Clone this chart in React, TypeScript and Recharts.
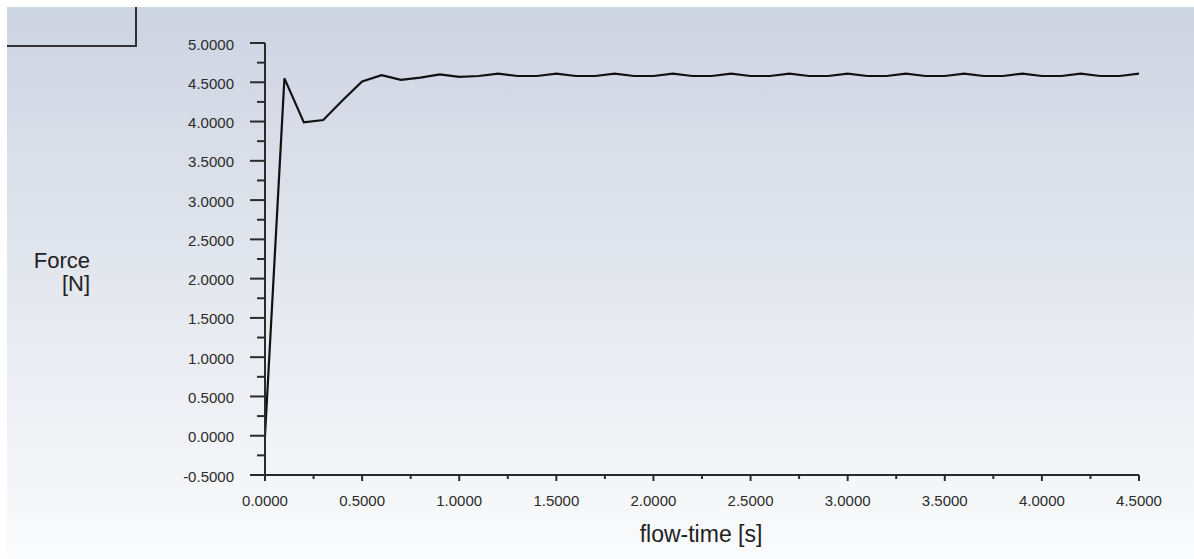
import React from "react";
import { LineChart, Line, XAxis, YAxis } from "recharts";

const times = [
  0.0, 0.1, 0.2, 0.3, 0.4, 0.5, 0.6, 0.7, 0.8, 0.9,
  1.0, 1.1, 1.2, 1.3, 1.4, 1.5, 1.6, 1.7, 1.8, 1.9,
  2.0, 2.1, 2.2, 2.3, 2.4, 2.5, 2.6, 2.7, 2.8, 2.9,
  3.0, 3.1, 3.2, 3.3, 3.4, 3.5, 3.6, 3.7, 3.8, 3.9,
  4.0, 4.1, 4.2, 4.3, 4.4, 4.5,
];
const force = [
  0.0, 4.55, 3.99, 4.02, 4.27, 4.51, 4.59, 4.53, 4.56, 4.6,
  4.57, 4.58, 4.61, 4.58, 4.58, 4.61, 4.58, 4.58, 4.61, 4.58,
  4.58, 4.61, 4.58, 4.58, 4.61, 4.58, 4.58, 4.61, 4.58, 4.58,
  4.61, 4.58, 4.58, 4.61, 4.58, 4.58, 4.61, 4.58, 4.58, 4.61,
  4.58, 4.58, 4.61, 4.58, 4.58, 4.61,
];
const xTicks = [0, 0.25, 0.5, 0.75, 1, 1.25, 1.5, 1.75, 2, 2.25, 2.5, 2.75, 3, 3.25, 3.5, 3.75, 4, 4.25, 4.5];
const yTicks = [-0.5, -0.25, 0, 0.25, 0.5, 0.75, 1, 1.25, 1.5, 1.75, 2, 2.25, 2.5, 2.75, 3, 3.25, 3.5, 3.75, 4, 4.25, 4.5, 4.75, 5];

const data = times.map((t, i) => ({ t, f: force[i] }));

const FONT = "'Liberation Sans', Arial, sans-serif";
const INK = "#2b2b2b";

const isMajor = (v: number) => Math.abs(v * 2 - Math.round(v * 2)) < 1e-6;

const YTick = (props: any) => {
  const { x, y, payload } = props;
  const v = payload.value as number;
  const major = isMajor(v);
  return (
    <g>
      <line x1={x - (major ? 15 : 8)} x2={x} y1={y} y2={y} stroke={INK} strokeWidth={2} />
      {major && (
        <text x={x - 31} y={y + 1} textAnchor="end" dominantBaseline="central" fontFamily={FONT} fontSize={15} fill={INK}>
          {v.toFixed(4)}
        </text>
      )}
    </g>
  );
};

const XTick = (props: any) => {
  const { x, y, payload } = props;
  const v = payload.value as number;
  const major = isMajor(v);
  return (
    <g>
      <line x1={x} x2={x} y1={y} y2={y + (major ? 6 : 4)} stroke={INK} strokeWidth={2} />
      {major && (
        <text x={x} y={y + 25} textAnchor="middle" dominantBaseline="central" fontFamily={FONT} fontSize={15} fill={INK}>
          {v.toFixed(4)}
        </text>
      )}
    </g>
  );
};

export default function App() {
  return (
    <div style={{ position: "absolute", left: 0, top: 0, width: 1194, height: 559, background: "#ffffff" }}>
      <div
        style={{
          position: "absolute",
          left: 7,
          top: 7,
          width: 1187,
          height: 552,
          background: "linear-gradient(to bottom, #cdd4e2 0%, #e4e7ee 50%, #fafbfc 100%)",
        }}
      />
      <svg style={{ position: "absolute", left: 0, top: 0 }} width={1194} height={559}>
        <polyline points="7,46 136,46 136,7" fill="none" stroke="#333333" strokeWidth={2} />
        <text x={90} y={268} textAnchor="end" fontFamily={FONT} fontSize={22} fill="#222">
          Force
        </text>
        <text x={90} y={291} textAnchor="end" fontFamily={FONT} fontSize={22} fill="#222">
          [N]
        </text>
        <text x={701} y={542} textAnchor="middle" fontFamily={FONT} fontSize={23} fill="#222">
          flow-time [s]
        </text>
      </svg>
      <div style={{ position: "absolute", left: 0, top: 0 }}>
        <LineChart width={1194} height={559} data={data} margin={{ top: 43, right: 55, left: 0, bottom: 24 }}>
          <XAxis
            dataKey="t"
            type="number"
            domain={[0, 4.5]}
            ticks={xTicks}
            interval={0}
            tickSize={0}
            tickMargin={0}
            tickLine={false}
            tick={<XTick />}
            axisLine={{ stroke: INK, strokeWidth: 2 }}
            height={60}
            allowDataOverflow
          />
          <YAxis
            type="number"
            domain={[-0.5, 5]}
            ticks={yTicks}
            interval={0}
            tickSize={0}
            tickMargin={0}
            tickLine={false}
            tick={<YTick />}
            axisLine={{ stroke: INK, strokeWidth: 2 }}
            width={265}
            allowDataOverflow
          />
          <Line dataKey="f" type="linear" stroke="#111111" strokeWidth={2.2} dot={false} isAnimationActive={false} />
        </LineChart>
      </div>
    </div>
  );
}
